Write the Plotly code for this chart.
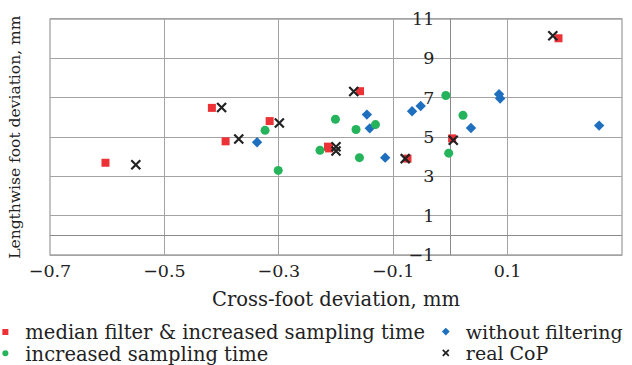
import plotly.graph_objects as go

# ---- data ----
median_x = [-0.603, -0.417, -0.393, -0.316, -0.214, -0.212, -0.158, -0.075, 0.003, 0.189]
median_y = [3.69, 6.48, 4.78, 5.81, 4.51, 4.42, 7.33, 3.90, 4.93, 10.02]

nofilt_x = [-0.338, -0.146, -0.141, -0.114, -0.067, -0.052, 0.036, 0.085, 0.087, 0.260]
nofilt_y = [4.73, 6.14, 5.44, 3.95, 6.31, 6.58, 5.46, 7.18, 6.96, 5.58]

incr_x = [-0.324, -0.301, -0.228, -0.201, -0.165, -0.159, -0.131, -0.008, -0.003, 0.022]
incr_y = [5.34, 3.30, 4.32, 5.90, 5.38, 3.95, 5.63, 7.11, 4.18, 6.10]

real_x = [-0.550, -0.400, -0.370, -0.299, -0.200, -0.200, -0.169, -0.079, 0.005, 0.179]
real_y = [3.59, 6.50, 4.90, 5.71, 4.50, 4.29, 7.31, 3.90, 4.83, 10.15]

x_ticks = [-0.7, -0.5, -0.3, -0.1, 0.1, 0.3]
x_tick_text = ["\u22120.7", "\u22120.5", "\u22120.3", "\u22120.1", "0.1", "0.3"]
y_ticks = [-1, 1, 3, 5, 7, 9, 11]
y_tick_text = ["\u22121", "1", "3", "5", "7", "9", "11"]

names = ["median filter & increased sampling time", "without filtering",
         "increased sampling time", "real CoP"]

RED = "#ec3237"
BLUE = "#1f6fbf"
GREEN = "#25b35c"
BLACK = "#222222"
FONT = "DejaVu Serif"

fig = go.Figure()
fig.add_trace(go.Scatter(x=median_x, y=median_y, mode="markers", showlegend=False,
                         marker=dict(symbol="square", size=8, color=RED)))
fig.add_trace(go.Scatter(x=nofilt_x, y=nofilt_y, mode="markers", showlegend=False,
                         marker=dict(symbol="diamond", size=8, color=BLUE)))
fig.add_trace(go.Scatter(x=incr_x, y=incr_y, mode="markers", showlegend=False,
                         marker=dict(symbol="circle", size=9, color=GREEN)))
fig.add_trace(go.Scatter(x=real_x, y=real_y, mode="markers", showlegend=False,
                         marker=dict(symbol="x-thin", size=9, color=BLACK,
                                     line=dict(width=2.2, color=BLACK))))

# legend entries (smaller symbols), one legend box per entry for exact placement
fig.add_trace(go.Scatter(x=[None], y=[None], mode="markers", name=names[0], legend="legend",
                         marker=dict(symbol="square", size=6, color=RED)))
fig.add_trace(go.Scatter(x=[None], y=[None], mode="markers", name=names[2], legend="legend3",
                         marker=dict(symbol="circle", size=6, color=GREEN)))
fig.add_trace(go.Scatter(x=[None], y=[None], mode="markers", name=names[1], legend="legend2",
                         marker=dict(symbol="diamond", size=6, color=BLUE)))
fig.add_trace(go.Scatter(x=[None], y=[None], mode="markers", name=names[3], legend="legend4",
                         marker=dict(symbol="x-thin", size=6, color=BLACK,
                                     line=dict(width=1.8, color=BLACK))))

GRID = "#a3a3a3"
ROW1 = -0.2445
ROW2 = -0.335
leg_common = dict(xanchor="left", yanchor="top", orientation="v",
                  bgcolor="rgba(0,0,0,0)")
fig.update_layout(
    width=632, height=365,
    margin=dict(l=50, r=10, t=19, b=110, autoexpand=False),
    paper_bgcolor="white", plot_bgcolor="white",
    font=dict(family=FONT, size=18, color="#222222"),
    xaxis=dict(range=[-0.7, 0.3], tickvals=x_ticks, ticktext=x_tick_text,
               showgrid=True, gridcolor=GRID, gridwidth=1.3,
               zeroline=True, zerolinecolor="#8a8a8a", zerolinewidth=1.3,
               showline=True, mirror=True, linecolor=GRID, linewidth=1.3,
               ticks="", tickfont=dict(size=17.5), ticklabelstandoff=0,
               title=dict(text="Cross-foot deviation, mm", font=dict(size=19.5), standoff=12)),
    yaxis=dict(range=[-1, 11], tickvals=y_ticks, ticktext=y_tick_text,
               anchor="free", position=0.7,
               showgrid=True, gridcolor=GRID, gridwidth=1.3,
               zeroline=True, zerolinecolor="#8a8a8a", zerolinewidth=1.3,
               showline=False, ticks="", tickfont=dict(size=17.5),
               ticklabelstandoff=16),
    legend=dict(x=-0.113, y=ROW1, font=dict(size=19.5), **leg_common),
    legend3=dict(x=-0.113, y=ROW2, font=dict(size=19.5), **leg_common),
    legend2=dict(x=0.657, y=ROW1, font=dict(size=19), **leg_common),
    legend4=dict(x=0.657, y=ROW2, font=dict(size=19), **leg_common),
    annotations=[dict(text="Lengthwise foot deviation, mm", textangle=-90,
                      xref="paper", yref="paper", x=-0.0615, y=0.5,
                      xanchor="center", yanchor="middle", showarrow=False,
                      font=dict(size=15.5))],
)
fig.add_shape(type="rect", xref="paper", yref="paper", x0=0, x1=1, y0=0, y1=1,
              line=dict(color=GRID, width=1.3), layer="below")

fig.write_html("out.html", config={"displayModeBar": False},
               post_script="document.body.style.margin='0px';")
